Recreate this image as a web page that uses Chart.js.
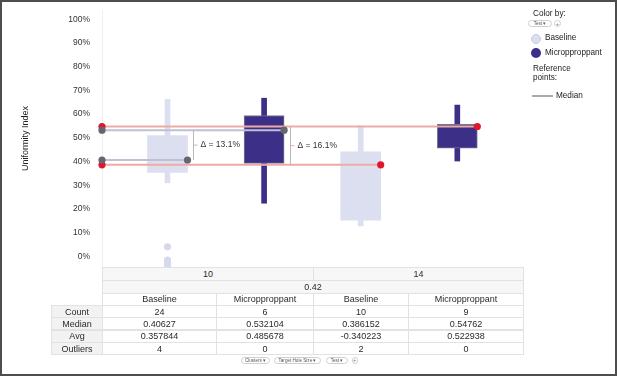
<!DOCTYPE html>
<html><head><meta charset="utf-8">
<script src="https://cdn.jsdelivr.net/npm/chart.js@4"></script>
<style>
html,body{margin:0;padding:0;background:#fff;}
#wrap{position:relative;width:620px;height:378px;overflow:hidden;font-family:"Liberation Sans",Arial,sans-serif;color:#2a2a2a;}
#frame{position:absolute;left:0;top:0;width:617px;height:376px;border:2px solid #4d4d4d;box-sizing:border-box;pointer-events:none;}
canvas{position:absolute;left:0;top:0;}
.cell{position:absolute;box-sizing:border-box;border:1px solid #e2e2e2;font-size:9px;display:flex;align-items:center;justify-content:center;white-space:nowrap;color:#2a2a2a;}
.lg{position:absolute;font-size:8.2px;color:#222;white-space:nowrap;line-height:10px;}
.chip{position:absolute;box-sizing:border-box;border:1px solid #cfcfcf;border-radius:5px;font-size:4.6px;color:#555;display:flex;align-items:center;justify-content:center;white-space:nowrap;background:#fff;}
.plus{position:absolute;box-sizing:border-box;border:1px solid #cfcfcf;border-radius:50%;font-size:5px;color:#777;display:flex;align-items:center;justify-content:center;}
.dot{position:absolute;border-radius:50%;box-sizing:border-box;}
</style></head>
<body><div id="wrap">
<canvas id="c" width="620" height="378"></canvas>
<div id="tbl"></div>
<div id="legend"></div>
<div id="chips"></div>
<div id="frame"></div>
</div>
<script>
// ---- data ----
const groups = ['10', '14'];
const tests = ['Baseline', 'Micropproppant', 'Baseline', 'Micropproppant'];
const xPos = [1, 2, 3, 4];
const whiskerLow  = [0.310, 0.224, 0.128, 0.402];
const whiskerHigh = [0.662, 0.667, 0.550, 0.638];
const q1 = [0.354, 0.392, 0.153, 0.456];
const q3 = [0.509, 0.594, 0.441, 0.557];
const medians = [0.40627, 0.532104, 0.386152, 0.54762];
const outlierX = [1, 1, 1, 1];
const outlierY = [0.040, -0.016, -0.030, -0.046];
const counts = [24, 6, 10, 9];
const avgs = ['0.357844', '0.485678', '-0.340223', '0.522938'];
const outlierCounts = [4, 0, 2, 0];
const targetHoleSize = '0.42';
const yTicks = [0, 0.1, 0.2, 0.3, 0.4, 0.5, 0.6, 0.7, 0.8, 0.9, 1.0];
const deltaLabels = ['\u0394 = 13.1%', '\u0394 = 16.1%'];
const deltaPairs = [[0, 1], [2, 3]];
const deltaAt = [0, 1];
const chipLabels = ['Clusters \u25BE', 'Target Hole Size \u25BE', 'Test \u25BE'];

// ---- styles ----
const LIGHT = '#dcdff0', DARK = '#3c2f87';
const fills = tests.map(t => t === 'Baseline' ? LIGHT : DARK);
const groupOf = [0, 0, 1, 1];
const lineCol = ['#bfc1d2', '#eeaba5'];
const dotCol = ['#666670', '#e0162b'];
const X_MIN = 0.322, X_MAX = 4.68;
const BOX_W = 40, HALF = 20 / 96.6;

const refSets = medians.map((m, i) => ({
  type: 'line', label: 'median' + i,
  data: [{x: X_MIN, y: m}, {x: xPos[i] + HALF, y: m}],
  borderColor: lineCol[groupOf[i]], borderWidth: 2,
  pointRadius: 3.6, pointBackgroundColor: dotCol[groupOf[i]], pointBorderWidth: 0,
  clip: false, order: -1
}));

const bracketPlugin = {
  id: 'brackets',
  afterDatasetsDraw(chart) {
    const {ctx, scales: {x, y}} = chart;
    deltaPairs.forEach((p, k) => {
      const xp = Math.round(x.getPixelForValue(xPos[deltaAt[k]] + HALF + 0.058)) + 0.5;
      const y1 = y.getPixelForValue(medians[p[0]]);
      const y2 = y.getPixelForValue(medians[p[1]]);
      const ym = (y1 + y2) / 2;
      ctx.save();
      ctx.strokeStyle = '#b9b9b9'; ctx.lineWidth = 1;
      ctx.beginPath(); ctx.moveTo(xp, y1); ctx.lineTo(xp, y2); ctx.stroke();
      ctx.strokeStyle = k === 0 ? '#b9b9b9' : '#eeaba5';
      ctx.beginPath(); ctx.moveTo(xp, ym); ctx.lineTo(xp + 4, ym); ctx.stroke();
      ctx.fillStyle = '#333';
      ctx.font = '8.5px "Liberation Sans", Arial, sans-serif';
      ctx.textBaseline = 'middle'; ctx.textAlign = 'left';
      ctx.fillText(deltaLabels[k], xp + 7, ym);
      ctx.restore();
    });
  }
};

new Chart(document.getElementById('c'), {
  type: 'bar',
  data: {
    datasets: [
      { label: 'whisker', data: xPos.map((v, i) => ({x: v, y: [whiskerLow[i], whiskerHigh[i]]})),
        backgroundColor: fills, barThickness: 5, grouped: false, borderWidth: 0, order: 3 },
      { label: 'box', data: xPos.map((v, i) => ({x: v, y: [q1[i], q3[i]]})),
        backgroundColor: fills, barThickness: BOX_W, grouped: false,
        borderColor: tests.map(t => t === 'Baseline' ? 'rgba(0,0,0,0)' : '#77768c'),
        borderWidth: tests.map(t => t === 'Baseline' ? 0 : 1), borderSkipped: false, order: 2 },
      { type: 'scatter', label: 'outliers', data: outlierX.map((v, i) => ({x: v, y: outlierY[i]})),
        pointRadius: 3.6, pointBackgroundColor: '#d6d9eb', pointBorderWidth: 0, order: 1 },
      ...refSets
    ]
  },
  options: {
    responsive: false, animation: false, devicePixelRatio: 1,
    layout: { padding: { left: 20, right: 97, top: 10, bottom: 111 } },
    plugins: { legend: { display: false }, tooltip: { enabled: false } },
    scales: {
      x: { type: 'linear', min: X_MIN, max: X_MAX, display: false, offset: false },
      y: {
        min: -0.045, max: 1.039,
        afterFit: s => { s.width = 82; s.paddingTop = 0; s.paddingBottom = 0; },
        afterBuildTicks: s => { s.ticks = yTicks.map(v => ({value: v})); },
        grid: { color: 'rgba(0,0,0,0)', drawTicks: false },
        border: { color: '#efefef', width: 1 },
        ticks: { padding: 12, color: '#333', font: { size: 8.5, family: '"Liberation Sans", Arial, sans-serif' },
          callback: v => Math.round(v * 100) + '%' },
        title: { display: true, text: 'Uniformity Index', color: '#222', padding: 0,
          font: { size: 9, family: '"Liberation Sans", Arial, sans-serif' } }
      }
    }
  },
  plugins: [bracketPlugin]
});

// ---- table ----
const colX = [51, 102, 216, 313, 408, 523];
const rowY = [267, 280, 292.7, 305, 317.3, 329.5, 341.8, 354.3];
const tbl = document.getElementById('tbl');
function cell(c0, c1, r, text, bg) {
  const d = document.createElement('div');
  d.className = 'cell';
  d.style.left = colX[c0] + 'px';
  d.style.width = (colX[c1] - colX[c0] + 1) + 'px';
  d.style.top = rowY[r] + 'px';
  d.style.height = (rowY[r + 1] - rowY[r] + 1) + 'px';
  d.style.background = bg;
  d.textContent = text;
  tbl.appendChild(d);
}
cell(1, 3, 0, groups[0], '#f7f7f7');
cell(3, 5, 0, groups[1], '#f7f7f7');
cell(1, 5, 1, targetHoleSize, '#f7f7f7');
tests.forEach((t, i) => cell(i + 1, i + 2, 2, t, '#fff'));
const rows = [['Count', counts], ['Median', medians.map(String)], ['Avg', avgs], ['Outliers', outlierCounts]];
rows.forEach((r, k) => {
  cell(0, 1, 3 + k, r[0], '#f2f2f2');
  r[1].forEach((v, i) => cell(i + 1, i + 2, 3 + k, String(v), '#fff'));
});

// ---- legend ----
const lg = document.getElementById('legend');
function add(html) { lg.insertAdjacentHTML('beforeend', html); }
add('<div class="lg" style="left:533px;top:9px;">Color by:</div>');
add('<div class="chip" style="left:528px;top:20px;width:24px;height:7px;">Test \u25BE</div>');
add('<div class="plus" style="left:554px;top:20px;width:7px;height:7px;">+</div>');
add('<div class="dot" style="left:531px;top:33.5px;width:10px;height:10px;background:' + LIGHT + ';border:1px solid #c8cbe0;"></div>');
add('<div class="lg" style="left:545px;top:33px;">' + tests[0] + '</div>');
add('<div class="dot" style="left:531px;top:48px;width:10px;height:10px;background:' + DARK + ';"></div>');
add('<div class="lg" style="left:545px;top:47.5px;">' + tests[1] + '</div>');
add('<div class="lg" style="left:533px;top:64px;">Reference</div>');
add('<div class="lg" style="left:533px;top:73px;">points:</div>');
add('<div style="position:absolute;left:532px;top:95px;width:21px;height:1.5px;background:#aaa;"></div>');
add('<div class="lg" style="left:556px;top:90.5px;">Median</div>');

// ---- bottom chips ----
const chips = document.getElementById('chips');
const chipX = [241, 274, 326];
const chipW = [29, 47, 22];
chipLabels.forEach((t, i) => {
  chips.insertAdjacentHTML('beforeend', '<div class="chip" style="left:' + chipX[i] + 'px;top:356.5px;width:' + chipW[i] + 'px;height:7.5px;">' + t + '</div>');
});
chips.insertAdjacentHTML('beforeend', '<div class="plus" style="left:351.5px;top:357px;width:6.5px;height:6.5px;">+</div>');
</script>
</body></html>
